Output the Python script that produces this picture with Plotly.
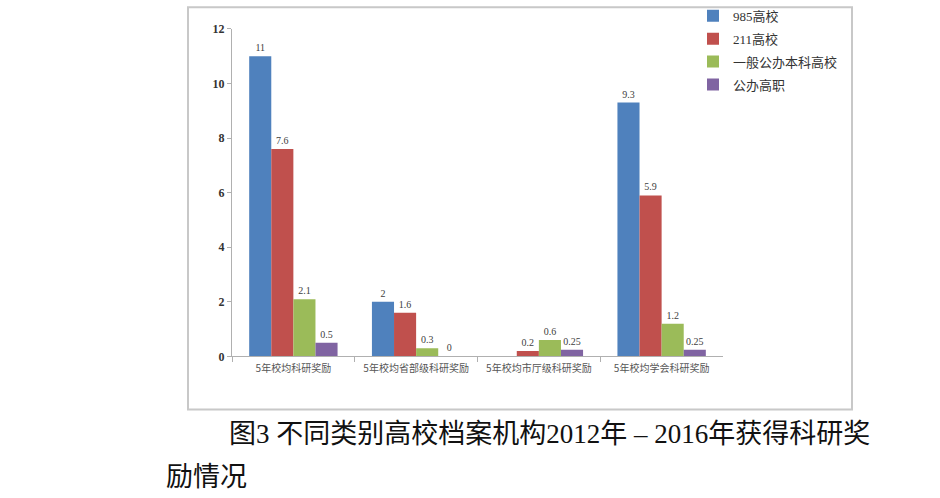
import plotly.graph_objects as go

categories = ["5年校均科研奖励", "5年校均省部级科研奖励", "5年校均市厅级科研奖励", "5年校均学会科研奖励"]
series_names = ["985高校", "211高校", "一般公办本科高校", "公办高职"]
v985 = [11, 2, None, 9.3]
v211 = [7.6, 1.6, 0.2, 5.9]
vgen = [2.1, 0.3, 0.6, 1.2]
vvoc = [0.5, 0, 0.25, 0.25]
y_ticks = [0, 2, 4, 6, 8, 10, 12]
caption_line1 = "图3 不同类别高校档案机构2012年 – 2016年获得科研奖"
caption_line2 = "励情况"

colors = ["#4F81BD", "#C0504D", "#9BBB59", "#8064A2"]
W, H = 940, 498

def px_x(p):
    return p / W

def px_y(p):
    # target pixel row -> paper fraction (with empirical vertical correction)
    return 1 - ((p - 7.2) / 0.97) / H

fig = go.Figure()
for name, vals, col in zip(series_names, [v985, v211, vgen, vvoc], colors):
    fig.add_trace(go.Bar(
        x=categories, y=vals, name=name, legendgroup=name,
        marker=dict(color=col, line=dict(width=0)),
        text=["" if v is None else f"{v:g}" for v in vals],
        textposition="outside",
        textfont=dict(family="Liberation Serif, Noto Sans CJK SC", size=10, color="#404040"),
        cliponaxis=False,
    ))

fig.update_layout(
    width=W, height=H,
    margin=dict(l=0, r=0, t=0, b=0),
    paper_bgcolor="white", plot_bgcolor="white",
    barmode="group", bargap=0.28, bargroupgap=0,
    showlegend=True,
    legend=dict(
        x=px_x(693), y=px_y(1), xanchor="left", yanchor="top",
        font=dict(family="Liberation Serif, Noto Sans CJK SC", size=13, color="#333333"),
        bgcolor="rgba(0,0,0,0)", itemwidth=30, traceorder="grouped",
        tracegroupgap=3,
    ),
    xaxis=dict(
        domain=[px_x(232), px_x(723)],
        showline=True, linecolor="#B0B0B0", linewidth=1,
        ticks="outside", tickson="boundaries", ticklen=5, tickcolor="#B0B0B0",
        tickfont=dict(family="Noto Sans CJK SC", size=10, color="#555555"),
        ticklabelstandoff=3,
        showgrid=False,
    ),
    yaxis=dict(
        domain=[px_y(356), px_y(29)],
        range=[0, 12], tickvals=y_ticks,
        showline=True, linecolor="#B0B0B0", linewidth=1,
        ticks="outside", ticklen=4, tickcolor="#B0B0B0",
        tickfont=dict(family="Liberation Serif", size=12, color="#333333", weight="bold"),
        showgrid=False, zeroline=False,
    ),
    shapes=[dict(
        type="rect", xref="paper", yref="paper",
        x0=px_x(188), x1=px_x(852), y0=px_y(409), y1=px_y(7.5),
        line=dict(color="#C8C8C8", width=2), fillcolor="rgba(0,0,0,0)", layer="below",
    )],
    annotations=[
        dict(text=caption_line1, xref="paper", yref="paper", x=px_x(227), y=px_y(433),
             xanchor="left", yanchor="middle", showarrow=False,
             font=dict(family="Liberation Serif, Noto Sans CJK SC", size=27, color="#111111")),
        dict(text=caption_line2, xref="paper", yref="paper", x=px_x(164), y=px_y(476),
             xanchor="left", yanchor="middle", showarrow=False,
             font=dict(family="Liberation Serif, Noto Sans CJK SC", size=27, color="#111111")),
    ],
)

fig.write_html("out.html")
